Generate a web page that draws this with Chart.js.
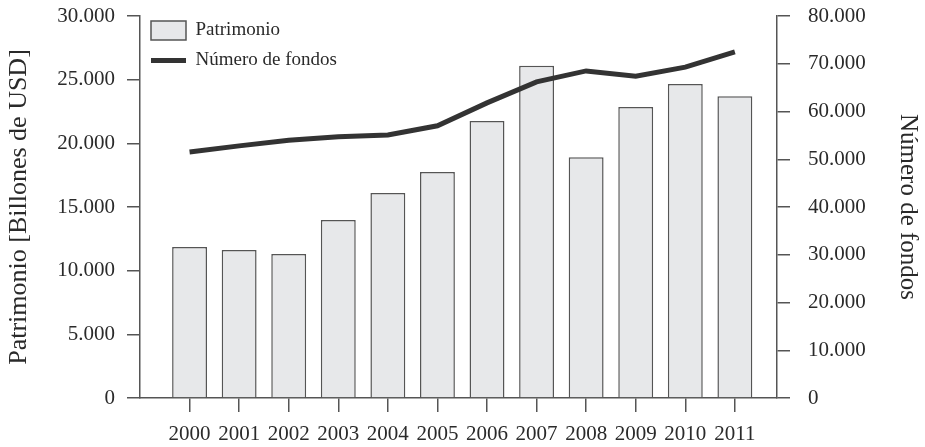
<!DOCTYPE html>
<html>
<head>
<meta charset="utf-8">
<script src="https://cdn.jsdelivr.net/npm/chart.js@4.4.1/dist/chart.umd.min.js"></script>
<style>
  html, body { margin: 0; padding: 0; background: #fff; }
</style>
</head>
<body>
<canvas id="myChart1" width="925" height="447"></canvas>
<script>
var years = [2000, 2001, 2002, 2003, 2004, 2005, 2006, 2007, 2008, 2009, 2010, 2011];
var patrimonio = [11860, 11620, 11310, 13980, 16100, 17750, 21750, 26100, 18900, 22850, 24650, 23700];
var fondos = [51500, 52800, 54000, 54700, 55100, 57000, 61800, 66200, 68500, 67400, 69300, 72500];

// 12.345 style thousands
function miles(v) {
  return String(v).replace(/\B(?=(\d{3})+(?!\d))/g, '.');
}

var serif = "'Liberation Serif', 'DejaVu Serif', serif";
var axisColor = '#555';
var textColor = '#2a2a2a';

/*--put the legend in the top left corner of the plot--*/
var legendSpot = {
  id: 'legendSpot',
  afterLayout: function (chart) {
    var lg = chart.legend;
    lg.top = chart.chartArea.top - 6;
    lg.bottom = lg.top + lg.height;
  }
};

// fixed axis widths, and no extra top/bottom room from the tick padding
function fitY(w) {
  return function (scale) {
    scale.width = w;
    scale.paddingTop = 12;
    scale.paddingBottom = 12;
  };
}

var ctx = document.getElementById("myChart1").getContext('2d');
var myChart1 = new Chart(ctx, {
  type: 'bar',
  plugins: [legendSpot],
  data: {
    labels: years,
    datasets: [
      {
        type: 'bar',
        label: 'Patrimonio',
        data: patrimonio,
        yAxisID: 'y',
        order: 1,
        backgroundColor: '#e7e8ea',
        borderColor: '#555',
        borderWidth: 1.5,
        barPercentage: 0.88,
        categoryPercentage: 0.8,
        pointStyle: 'rect'
      },
      {
        type: 'line',
        label: 'Número de fondos',
        data: fondos,
        yAxisID: 'y2',
        order: 0,
        borderColor: '#333',
        backgroundColor: '#333',
        borderWidth: 5,
        pointRadius: 0,
        tension: 0,
        pointStyle: 'line'
      }
    ]
  },
  options: {
    responsive: false,
    animation: false,
    layout: { padding: { top: 16, left: 0, right: 0, bottom: 0 } },
    plugins: {
      tooltip: { enabled: false },
      legend: {
        position: 'chartArea',
        align: 'start',
        labels: {
          usePointStyle: true,
          pointStyleWidth: 35,
          padding: 11,
          color: textColor,
          font: { family: serif, size: 19 },
          sort: function (a, b) { return a.datasetIndex - b.datasetIndex; }
        }
      }
    },
    scales: {
      x: {
        type: 'linear',
        min: 1999,
        max: 2011.85,
        offset: false,
        afterBuildTicks: function (scale) {
          scale.ticks = years.map(function (y) { return { value: y }; });
        },
        afterFit: function (scale) { scale.height = 49; },
        grid: { offset: false, drawOnChartArea: false, drawTicks: true, tickLength: 14, color: axisColor, lineWidth: 1.5 },
        border: { display: true, color: axisColor, width: 1.5 },
        ticks: {
          padding: 10,
          color: textColor,
          maxRotation: 0,
          autoSkip: false,
          font: { family: serif, size: 21 },
          callback: function (v) { return String(v); }
        }
      },
      y: {
        position: 'left',
        min: 0,
        max: 30000,
        afterFit: fitY(140),
        grid: { drawOnChartArea: false, drawTicks: true, tickLength: 13, color: axisColor, lineWidth: 1.5 },
        border: { display: true, color: axisColor, width: 1.5 },
        ticks: {
          stepSize: 5000,
          padding: 12,
          color: textColor,
          font: { family: serif, size: 21 },
          callback: function (v) { return miles(v); }
        },
        title: {
          display: true,
          text: 'Patrimonio [Billones de USD]',
          color: textColor,
          padding: { top: 4, bottom: 0 },
          font: { family: serif, size: 26 }
        }
      },
      y2: {
        position: 'right',
        min: 0,
        max: 80000,
        afterFit: fitY(148),
        grid: { drawOnChartArea: false, drawTicks: true, tickLength: 13, color: axisColor, lineWidth: 1.5 },
        border: { display: true, color: axisColor, width: 1.5 },
        ticks: {
          stepSize: 10000,
          padding: 18,
          color: textColor,
          font: { family: serif, size: 21 },
          callback: function (v) { return miles(v); }
        },
        title: {
          display: true,
          text: 'Número de fondos',
          color: textColor,
          padding: { top: 2, bottom: 0 },
          font: { family: serif, size: 25 }
        }
      }
    }
  }
});
</script>
</body>
</html>
